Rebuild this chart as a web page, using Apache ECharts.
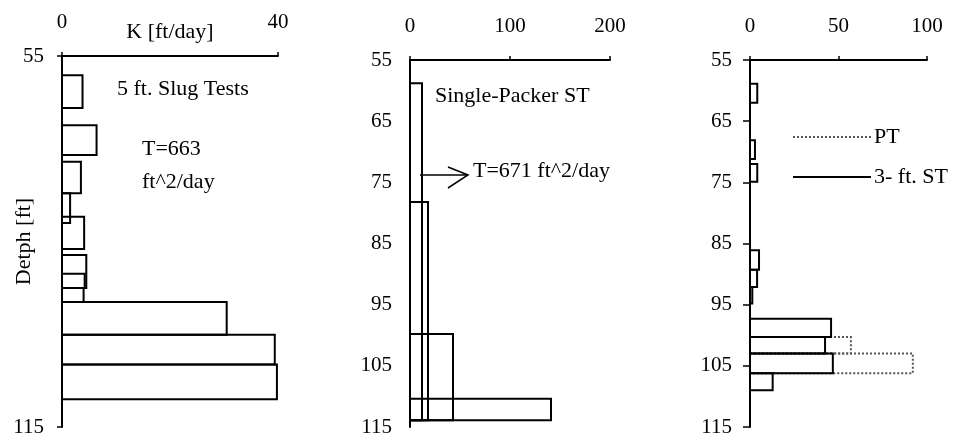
<!DOCTYPE html>
<html>
<head>
<meta charset="utf-8">
<script src="https://cdn.jsdelivr.net/npm/echarts@6/dist/echarts.min.js"></script>
<style>
  html, body { margin: 0; padding: 0; background: #fff; }
  #chart { width: 963px; height: 436px; }
</style>
</head>
<body>
<div id="chart"></div>
<script>
// 5 ft. slug tests (panel 1) - depth top / bottom [ft], K [ft/day]
var slugTop    = [58.1, 66.2, 72.1, 77.2, 81.0, 87.2, 90.2, 92.5, 94.8, 100.1, 104.9];
var slugBottom = [63.4, 71.0, 77.2, 82.0, 86.2, 92.5, 92.5, 94.8, 100.1, 104.9, 110.5];
var slugK      = [3.8, 6.4, 3.5, 1.5, 4.1, 4.5, 4.2, 4.0, 30.5, 39.4, 39.8];

// single-packer slug tests (panel 2)
var packerTop    = [58.8, 78.2, 99.8, 110.4];
var packerBottom = [113.9, 113.9, 113.9, 113.9];
var packerK      = [12, 18, 43, 141];

// panel 3: pumping tests (PT, dotted) and 3 ft slug tests (solid)
var ptTop    = [100.3, 103.0];
var ptBottom = [103.0, 106.2];
var ptK      = [57, 92];
var st3Top    = [58.9, 68.1, 72.0, 86.1, 89.3, 92.1, 97.3, 100.3, 103.0, 106.2];
var st3Bottom = [62.0, 71.2, 74.9, 89.3, 92.1, 94.8, 100.3, 103.0, 106.2, 109.0];
var st3K      = [4.1, 2.8, 4.1, 5.1, 4.0, 1.3, 45.8, 42.4, 46.8, 12.8];

var depthTicks = [55, 65, 75, 85, 95, 105, 115];

var FONT = 'Liberation Serif';

function toRows(top, bottom, k) {
  return top.map(function (t, i) { return [t, bottom[i], k[i]]; });
}

function boxRenderer(dashed) {
  return function (params, api) {
    var p0 = api.coord([0, api.value(0)]);
    var p1 = api.coord([api.value(2), api.value(1)]);
    return {
      type: 'rect',
      shape: { x: p0[0], y: p0[1], width: p1[0] - p0[0], height: p1[1] - p0[1] },
      style: {
        fill: 'none',
        stroke: dashed ? '#555' : '#000',
        lineWidth: 2,
        lineDash: dashed ? [2, 2] : null
      }
    };
  };
}

function xAxisOf(idx, max, interval, name) {
  return {
    gridIndex: idx, type: 'value', position: 'top',
    min: 0, max: max, interval: interval,
    name: name || '', nameLocation: 'middle', nameGap: 13, nameMoveOverlap: false,
    nameTextStyle: { fontFamily: FONT, fontSize: 22, color: '#000' },
    axisLine: { show: true, onZero: false, lineStyle: { color: '#000', width: 2 } },
    axisTick: { show: true, length: 4, lineStyle: { color: '#000', width: 1.5 } },
    axisLabel: { fontFamily: FONT, fontSize: 21, color: '#000', margin: 23 },
    splitLine: { show: false }
  };
}

function yAxisOf(idx, interval, tickLen, name) {
  return {
    gridIndex: idx, type: 'value', inverse: true,
    min: 55, max: 115, interval: interval,
    name: name || '', nameLocation: 'middle', nameRotate: 90, nameGap: 27, nameMoveOverlap: false,
    nameTextStyle: { fontFamily: FONT, fontSize: 22, color: '#000' },
    axisLine: { show: true, onZero: false, lineStyle: { color: '#000', width: 2 } },
    axisTick: { show: tickLen > 0, length: tickLen, lineStyle: { color: '#000', width: 1.5 } },
    axisLabel: {
      fontFamily: FONT, fontSize: 21, color: '#000', margin: 18,
      formatter: function (v) { return depthTicks.indexOf(v) >= 0 ? String(v) : ''; }
    },
    splitLine: { show: false }
  };
}

var chart = echarts.init(document.getElementById('chart'));

chart.setOption({
  backgroundColor: '#fff',
  animation: false,
  grid: [
    { left: 62, top: 56, width: 216, height: 371, containLabel: false, outerBoundsMode: 'none' },
    { left: 410, top: 60, width: 200, height: 367, containLabel: false, outerBoundsMode: 'none' },
    { left: 750, top: 60, width: 177, height: 367, containLabel: false, outerBoundsMode: 'none' }
  ],
  xAxis: [
    xAxisOf(0, 40, 40, 'K [ft/day]'),
    xAxisOf(1, 200, 100),
    xAxisOf(2, 100, 50)
  ],
  yAxis: [
    yAxisOf(0, 60, 5, 'Detph [ft]'),
    yAxisOf(1, 10, 0),
    yAxisOf(2, 10, 7)
  ],
  legend: {
    orient: 'vertical', left: 792, top: 126, padding: 0,
    itemWidth: 78, itemHeight: 4, itemGap: 18,
    itemStyle: { opacity: 0 },
    textStyle: { fontFamily: FONT, fontSize: 22, color: '#000', padding: [0, 0, 0, -2] },
    data: ['PT', '3- ft. ST']
  },
  series: [
    {
      type: 'custom', xAxisIndex: 0, yAxisIndex: 0,
      renderItem: boxRenderer(false), encode: { x: 2, y: [0, 1] },
      data: toRows(slugTop, slugBottom, slugK)
    },
    {
      type: 'custom', xAxisIndex: 1, yAxisIndex: 1,
      renderItem: boxRenderer(false), encode: { x: 2, y: [0, 1] },
      data: toRows(packerTop, packerBottom, packerK)
    },
    {
      type: 'custom', xAxisIndex: 2, yAxisIndex: 2,
      renderItem: boxRenderer(true), encode: { x: 2, y: [0, 1] },
      data: toRows(ptTop, ptBottom, ptK)
    },
    {
      type: 'custom', xAxisIndex: 2, yAxisIndex: 2,
      renderItem: boxRenderer(false), encode: { x: 2, y: [0, 1] },
      data: toRows(st3Top, st3Bottom, st3K)
    },
    // legend-only line series
    {
      name: 'PT', type: 'line', xAxisIndex: 2, yAxisIndex: 2, data: [],
      symbol: 'none', color: '#555', lineStyle: { color: '#555', type: [2, 2], width: 2 }
    },
    {
      name: '3- ft. ST', type: 'line', xAxisIndex: 2, yAxisIndex: 2, data: [],
      symbol: 'none', color: '#000', lineStyle: { color: '#000', type: 'solid', width: 2 }
    }
  ],
  graphic: [
    { type: 'text', left: 117, top: 78, style: { text: '5 ft. Slug Tests', font: '22px "Liberation Serif"', fill: '#000' } },
    { type: 'text', left: 142, top: 138, style: { text: 'T=663', font: '22px "Liberation Serif"', fill: '#000' } },
    { type: 'text', left: 142, top: 171, style: { text: 'ft^2/day', font: '22px "Liberation Serif"', fill: '#000' } },
    { type: 'text', left: 435, top: 85, style: { text: 'Single-Packer ST', font: '22px "Liberation Serif"', fill: '#000' } },
    { type: 'text', left: 473, top: 160, style: { text: 'T=671 ft^2/day', font: '22px "Liberation Serif"', fill: '#000' } },
    { type: 'line', shape: { x1: 420, y1: 175, x2: 468, y2: 175 }, style: { stroke: '#000', lineWidth: 1.5 } },
    { type: 'polyline', shape: { points: [[448, 167], [468, 175], [448, 188]] }, style: { stroke: '#000', lineWidth: 1.5, fill: null } }
  ]
});
</script>
</body>
</html>
